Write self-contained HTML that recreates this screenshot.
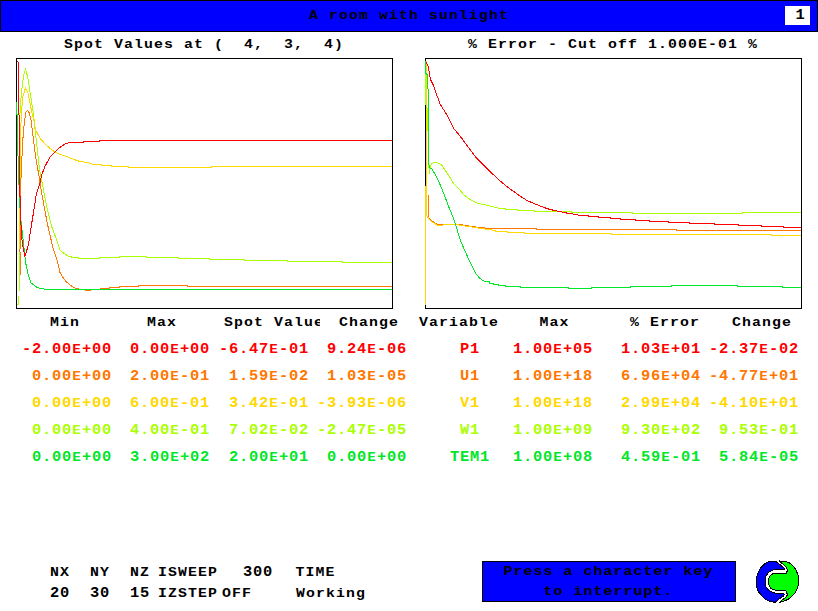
<!DOCTYPE html>
<html><head><meta charset="utf-8"><title>A room with sunlight</title>
<style>
html,body{margin:0;padding:0;background:#fff;width:818px;height:611px;overflow:hidden}
svg{display:block}
.t text{font-family:"Liberation Mono",monospace;font-weight:bold;font-size:14px;letter-spacing:0.691px;white-space:pre}
</style></head><body>
<svg width="818" height="611" viewBox="0 0 818 611">
<defs><clipPath id="clipSV"><rect x="0" y="300" width="320" height="40"/></clipPath></defs>
<rect x="0.5" y="0.5" width="817" height="31" fill="#0000ff" stroke="#000"/>
<rect x="785" y="6" width="25" height="19" fill="#fff"/>
<g fill="none" stroke="#000" stroke-width="1">
<rect x="16.5" y="58.5" width="376" height="250"/>
<rect x="425.5" y="58.5" width="376" height="250"/>
<rect x="482.5" y="561.5" width="253" height="40" fill="#0000ff"/>
</g>
<g class="c" shape-rendering="crispEdges">
<polyline points="17,304.5 19,304 19.2,200 19.6,140 19.9,114.9 21.2,95.3 23.5,76 25.5,69.5 27.5,76 29.7,89.5 33.6,114.9 35.6,134.5 39.5,169.3 42.8,186.3 47.4,210 51.8,227 56,238 60,250 64,253.5 69,256.5 74,257.5 74,257.5 78.5,257.5 78.5,258.5 99,258.5 99,257.5 119,257.5 119,256.5 146,256.5 146,257.5 178.5,257.5 178.5,258.5 209,258.5 209,259.5 244,259.5 244,260.5 287,260.5 287,261.5 342,261.5 342,262.5 391.5,262.5" stroke="#aaff00" stroke-width="1" fill="none"/><polyline points="19.5,251 19.5,240 20,180 20.6,140 21.2,114.9 23,96 25.5,88 28,93 31,108.4 34,121 35.6,130 40.2,138.5 46.7,145.7 53.3,150.9 60,154.5 64,155.5 69,157.5 74,159.5 80,161.5 87,162.5 94,164.5 94,164.5 101,164.5 101,165.5 111,165.5 111,166.5 128,166.5 128,167.5 211.5,167.5 211.5,166.5 391.5,166.5" stroke="#ffd800" stroke-width="1" fill="none"/><polyline points="20,275 20,252 20.2,210 20.8,182 22.3,150 23.2,134.5 24.5,121 26,112 27.7,110.3 29.3,113 31,120 32.3,130 35.6,156.2 38.9,175.8 42.1,195.4 44.8,210 47.3,223.4 52.7,246.8 57,260 60,272.5 63,277.5 66,281.5 70,285 74,287.5 76,288.5 76,288.5 78,288.5 78,289.5 85,289.5 85,290.5 90,290.5 90,289.5 100,289.5 100,288.5 109,288.5 109,287.5 119,287.5 119,286.5 138,286.5 138,285.5 187,285.5 187,286.5 391.5,286.5" stroke="#ff7700" stroke-width="1" fill="none"/><polyline points="16.5,102 16.5,114 17.5,115 17.8,150 19.2,190 19.4,200 21.2,223.4 23.9,246.8 25.7,263 28.4,275.7 31.1,282.9 37.4,287.7 46.4,289.5 391.5,289.5" stroke="#00e628" stroke-width="1" fill="none"/><polyline points="17.5,61 18.5,63 18.5,114 19.5,116 19.5,180 20.8,221.6 22.1,241.4 24.8,256.8 28.4,245 31.1,227 33.8,210.8 36.3,194 39.5,185 41.5,175.8 44.8,166.6 50.6,156.2 55.9,151 61.1,146.4 66,143.5 70,142.5 70,142.5 83,142.5 83,141.5 99,141.5 99,140.5 391.5,140.5" stroke="#ff0000" stroke-width="1" fill="none"/>
<polyline points="428.5,195 428.8,218 432.8,221.6 439,225 443.6,224.3 458,224.3 476,227 490,228.5 490,228.5 536,228.5 536,229.5 676,229.5 676,230.5 800.5,230.5" stroke="#ff7700" stroke-width="1" fill="none"/><polyline points="426.5,61 426.5,186 426.8,216 429.2,219 432.8,222.5 439.1,226.1 443.6,224.9 458,224.9 483.3,228.8 495,230.5 495,231.5 507,231.5 507,232.5 524,232.5 524,233.5 611,233.5 611,234.5 771,234.5 771,235.5 800.5,235.5" stroke="#ffd800" stroke-width="1" fill="none"/><polyline points="425.5,305 425.5,186" stroke="#ffd800" stroke-width="1" fill="none"/><polyline points="425.5,73 425.5,103 427.5,110 428.5,150 429.2,174 430.5,166 431.9,163.2 436.4,162.3 441.7,165 447.1,173 450.7,178.5 453.4,183.1 458.6,188.4 463.9,194.9 469.1,198.8 477,203 487.4,205.4 494,207 500,208.5 500,208.5 505,208.5 505,209.5 517,209.5 517,210.5 534,210.5 534,211.5 571,211.5 571,212.5 632,212.5 632,213.5 742,213.5 742,212.5 800.5,212.5" stroke="#aaff00" stroke-width="1" fill="none"/><polyline points="425.5,61 425.5,73 427.5,75 428.5,103 428.5,157 429.2,167.7 431.9,168.6 438.2,180.3 443.5,192.8 448.9,207.2 454.4,220.7 460.7,241.4 468.8,259.5 476,273.9 480,278.5 483,280.5 485,281.5 485,281.5 489,281.5 489,283.5 493,283.5 493,284.5 498,284.5 498,285.5 505,285.5 505,286.5 520,286.5 520,287.5 568,287.5 568,288.5 591,288.5 591,287.5 630,287.5 630,286.5 671,286.5 671,285.5 737,285.5 737,286.5 782.5,286.5 782.5,287.5 800.5,287.5" stroke="#00e628" stroke-width="1" fill="none"/><polyline points="425.9,61.9 427.9,65.2 430.5,79.6 433.8,86.1 436.4,94 440.3,104.4 446.9,114.9 453.4,128 460,136 463.9,141.2 469.1,148.4 475.7,157 482.2,163.5 487.4,168.7 492.7,174 500.5,181.2 507.4,186.9 518.5,195 527,200.5 534,203.5 539,205.5 544,207.5 550,209.5 555,210.5 564,212.5 569,213.5 576,214.5 580,215.5 580,215.5 588,215.5 588,216.5 598,216.5 598,217.5 610,217.5 610,218.5 620,218.5 620,219.5 635,219.5 635,220.5 649,220.5 649,221.5 668,221.5 668,222.5 689,222.5 689,223.5 714,223.5 714,224.5 738,224.5 738,225.5 761,225.5 761,226.5 783,226.5 783,227.5 800.5,227.5" stroke="#ff0000" stroke-width="1" fill="none"/>
</g>
<g class="t">
<text transform="translate(309,19) scale(1.1,1)" fill="#000" style="font-size:13.5px;letter-spacing:0.991px">A room with sunlight</text><text transform="translate(795.5,19) scale(1.1,1)" fill="#000">1</text><text transform="translate(64,48) scale(1.1,1)" fill="#000" style="font-size:13.5px;letter-spacing:0.991px">Spot Values at (  4,  3,  4)</text><text transform="translate(468,48) scale(1.1,1)" fill="#000" style="font-size:13.5px;letter-spacing:0.991px">% Error - Cut off 1.000E-01 %</text><text transform="translate(50,326) scale(1.1,1)" fill="#000" style="font-size:13.5px;letter-spacing:0.991px">Min</text><text transform="translate(147,326) scale(1.1,1)" fill="#000" style="font-size:13.5px;letter-spacing:0.991px">Max</text><g clip-path="url(#clipSV)"><text transform="translate(224,326) scale(1.1,1)" fill="#000" style="font-size:13.5px;letter-spacing:0.991px">Spot Value</text></g><text transform="translate(339,326) scale(1.1,1)" fill="#000" style="font-size:13.5px;letter-spacing:0.991px">Change</text><text transform="translate(419,326) scale(1.1,1)" fill="#000" style="font-size:13.5px;letter-spacing:0.991px">Variable</text><text transform="translate(539.5,326) scale(1.1,1)" fill="#000" style="font-size:13.5px;letter-spacing:0.991px">Max</text><text transform="translate(630,326) scale(1.1,1)" fill="#000" style="font-size:13.5px;letter-spacing:0.991px">% Error</text><text transform="translate(732,326) scale(1.1,1)" fill="#000" style="font-size:13.5px;letter-spacing:0.991px">Change</text><text transform="translate(22,353) scale(1.1,1)" fill="#ff0000">-2.00<tspan dx="0.3" style="font-size:13px">E</tspan><tspan dx="0.3">+00</tspan></text><text transform="translate(120,353) scale(1.1,1)" fill="#ff0000"> 0.00<tspan dx="0.3" style="font-size:13px">E</tspan><tspan dx="0.3">+00</tspan></text><text transform="translate(219,353) scale(1.1,1)" fill="#ff0000">-6.47<tspan dx="0.3" style="font-size:13px">E</tspan><tspan dx="0.3">-01</tspan></text><text transform="translate(317,353) scale(1.1,1)" fill="#ff0000"> 9.24<tspan dx="0.3" style="font-size:13px">E</tspan><tspan dx="0.3">-06</tspan></text><text transform="translate(460,353) scale(1.1,1)" fill="#ff0000">P1</text><text transform="translate(513,353) scale(1.1,1)" fill="#ff0000">1.00<tspan dx="0.3" style="font-size:13px">E</tspan><tspan dx="0.3">+05</tspan></text><text transform="translate(621,353) scale(1.1,1)" fill="#ff0000">1.03<tspan dx="0.3" style="font-size:13px">E</tspan><tspan dx="0.3">+01</tspan></text><text transform="translate(709,353) scale(1.1,1)" fill="#ff0000">-2.37<tspan dx="0.3" style="font-size:13px">E</tspan><tspan dx="0.3">-02</tspan></text><text transform="translate(22,380) scale(1.1,1)" fill="#ff7700"> 0.00<tspan dx="0.3" style="font-size:13px">E</tspan><tspan dx="0.3">+00</tspan></text><text transform="translate(120,380) scale(1.1,1)" fill="#ff7700"> 2.00<tspan dx="0.3" style="font-size:13px">E</tspan><tspan dx="0.3">-01</tspan></text><text transform="translate(219,380) scale(1.1,1)" fill="#ff7700"> 1.59<tspan dx="0.3" style="font-size:13px">E</tspan><tspan dx="0.3">-02</tspan></text><text transform="translate(317,380) scale(1.1,1)" fill="#ff7700"> 1.03<tspan dx="0.3" style="font-size:13px">E</tspan><tspan dx="0.3">-05</tspan></text><text transform="translate(460,380) scale(1.1,1)" fill="#ff7700">U1</text><text transform="translate(513,380) scale(1.1,1)" fill="#ff7700">1.00<tspan dx="0.3" style="font-size:13px">E</tspan><tspan dx="0.3">+18</tspan></text><text transform="translate(621,380) scale(1.1,1)" fill="#ff7700">6.96<tspan dx="0.3" style="font-size:13px">E</tspan><tspan dx="0.3">+04</tspan></text><text transform="translate(709,380) scale(1.1,1)" fill="#ff7700">-4.77<tspan dx="0.3" style="font-size:13px">E</tspan><tspan dx="0.3">+01</tspan></text><text transform="translate(22,407) scale(1.1,1)" fill="#ffd800"> 0.00<tspan dx="0.3" style="font-size:13px">E</tspan><tspan dx="0.3">+00</tspan></text><text transform="translate(120,407) scale(1.1,1)" fill="#ffd800"> 6.00<tspan dx="0.3" style="font-size:13px">E</tspan><tspan dx="0.3">-01</tspan></text><text transform="translate(219,407) scale(1.1,1)" fill="#ffd800"> 3.42<tspan dx="0.3" style="font-size:13px">E</tspan><tspan dx="0.3">-01</tspan></text><text transform="translate(317,407) scale(1.1,1)" fill="#ffd800">-3.93<tspan dx="0.3" style="font-size:13px">E</tspan><tspan dx="0.3">-06</tspan></text><text transform="translate(460,407) scale(1.1,1)" fill="#ffd800">V1</text><text transform="translate(513,407) scale(1.1,1)" fill="#ffd800">1.00<tspan dx="0.3" style="font-size:13px">E</tspan><tspan dx="0.3">+18</tspan></text><text transform="translate(621,407) scale(1.1,1)" fill="#ffd800">2.99<tspan dx="0.3" style="font-size:13px">E</tspan><tspan dx="0.3">+04</tspan></text><text transform="translate(709,407) scale(1.1,1)" fill="#ffd800">-4.10<tspan dx="0.3" style="font-size:13px">E</tspan><tspan dx="0.3">+01</tspan></text><text transform="translate(22,434) scale(1.1,1)" fill="#aaff00"> 0.00<tspan dx="0.3" style="font-size:13px">E</tspan><tspan dx="0.3">+00</tspan></text><text transform="translate(120,434) scale(1.1,1)" fill="#aaff00"> 4.00<tspan dx="0.3" style="font-size:13px">E</tspan><tspan dx="0.3">-01</tspan></text><text transform="translate(219,434) scale(1.1,1)" fill="#aaff00"> 7.02<tspan dx="0.3" style="font-size:13px">E</tspan><tspan dx="0.3">-02</tspan></text><text transform="translate(317,434) scale(1.1,1)" fill="#aaff00">-2.47<tspan dx="0.3" style="font-size:13px">E</tspan><tspan dx="0.3">-05</tspan></text><text transform="translate(460,434) scale(1.1,1)" fill="#aaff00">W1</text><text transform="translate(513,434) scale(1.1,1)" fill="#aaff00">1.00<tspan dx="0.3" style="font-size:13px">E</tspan><tspan dx="0.3">+09</tspan></text><text transform="translate(621,434) scale(1.1,1)" fill="#aaff00">9.30<tspan dx="0.3" style="font-size:13px">E</tspan><tspan dx="0.3">+02</tspan></text><text transform="translate(709,434) scale(1.1,1)" fill="#aaff00"> 9.53<tspan dx="0.3" style="font-size:13px">E</tspan><tspan dx="0.3">-01</tspan></text><text transform="translate(22,461) scale(1.1,1)" fill="#00e628"> 0.00<tspan dx="0.3" style="font-size:13px">E</tspan><tspan dx="0.3">+00</tspan></text><text transform="translate(120,461) scale(1.1,1)" fill="#00e628"> 3.00<tspan dx="0.3" style="font-size:13px">E</tspan><tspan dx="0.3">+02</tspan></text><text transform="translate(219,461) scale(1.1,1)" fill="#00e628"> 2.00<tspan dx="0.3" style="font-size:13px">E</tspan><tspan dx="0.3">+01</tspan></text><text transform="translate(317,461) scale(1.1,1)" fill="#00e628"> 0.00<tspan dx="0.3" style="font-size:13px">E</tspan><tspan dx="0.3">+00</tspan></text><text transform="translate(450,461) scale(1.1,1)" fill="#00e628">TEM1</text><text transform="translate(513,461) scale(1.1,1)" fill="#00e628">1.00<tspan dx="0.3" style="font-size:13px">E</tspan><tspan dx="0.3">+08</tspan></text><text transform="translate(621,461) scale(1.1,1)" fill="#00e628">4.59<tspan dx="0.3" style="font-size:13px">E</tspan><tspan dx="0.3">-01</tspan></text><text transform="translate(709,461) scale(1.1,1)" fill="#00e628"> 5.84<tspan dx="0.3" style="font-size:13px">E</tspan><tspan dx="0.3">-05</tspan></text><text transform="translate(50,576) scale(1.1,1)" fill="#000" style="font-size:13.5px;letter-spacing:0.991px">NX  NY  NZ</text><text transform="translate(50,597) scale(1.1,1)" fill="#000">20  30  15</text><text transform="translate(158,576) scale(1.1,1)" fill="#000" style="font-size:13.5px;letter-spacing:0.991px">ISWEEP</text><text transform="translate(158,597) scale(1.1,1)" fill="#000" style="font-size:13.5px;letter-spacing:0.991px">IZSTEP</text><text transform="translate(243,576) scale(1.1,1)" fill="#000">300</text><text transform="translate(222,597) scale(1.1,1)" fill="#000" style="font-size:13.5px;letter-spacing:0.991px">OFF</text><text transform="translate(295.5,576) scale(1.1,1)" fill="#000" style="font-size:13.5px;letter-spacing:0.991px">TIME</text><text transform="translate(296,597) scale(1.1,1)" fill="#000" style="font-size:13.5px;letter-spacing:0.991px">Working</text><text transform="translate(503.5,575) scale(1.1,1)" fill="#000" style="font-size:13.5px;letter-spacing:0.991px">Press a character key</text><text transform="translate(543.5,595) scale(1.1,1)" fill="#000" style="font-size:13.5px;letter-spacing:0.991px">to interrupt.</text>
</g>
<g transform="translate(755,558)" shape-rendering="crispEdges">
<polygon points="15,3 20,3 23,5 26,7.5 29,10 29.5,12 25,11.5 18.5,11.5 13.5,14.5 11,18 10.8,28.5 12.5,31 15.5,33.5 19.5,35 28,35 29.5,36.5 28.5,38 25.5,40 22.5,42.5 20,44.3 15,43.7 10,41 6,37 3,33 1.5,28.5 1.5,19 3,15 5.5,10 8.5,6.8 11.5,4.5" fill="#0000ff" stroke="#000" stroke-width="1" stroke-linejoin="round"/>
<polygon points="24.5,3 30,3.3 34,4.5 37.7,7.5 40.7,11.3 42.9,16.6 43.7,22.6 42.9,28.6 40.7,33.9 37.7,37.7 33,41.4 28.6,43.3 24.5,44.5 27,42.2 30.9,39.2 32.4,36.9 31.6,34 30.1,32 19.6,32 15.8,30.3 13.8,27 13.8,20.5 15.8,17 18.8,15.3 25.6,15.3 28.6,15.8 31.6,15 32.4,12 31.6,9.8 28.6,6.8" fill="#00ff00" stroke="#000" stroke-width="1" stroke-linejoin="round"/>
</g>
</svg>
</body></html>
